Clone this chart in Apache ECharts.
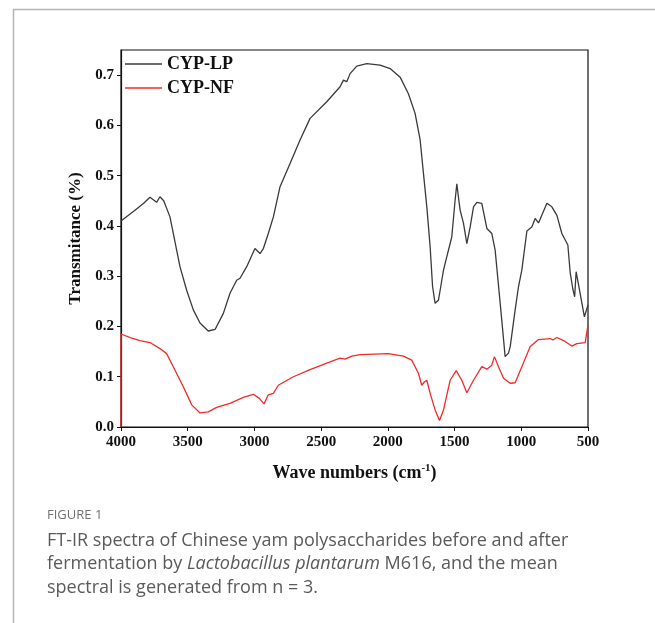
<!DOCTYPE html>
<html>
<head>
<meta charset="utf-8">
<script src="https://cdn.jsdelivr.net/npm/echarts@6/dist/echarts.min.js"></script>
<style>
html,body{margin:0;padding:0;background:#fff;}
#chart{width:655px;height:623px;}
</style>
</head>
<body>
<div id="chart"></div>
<script>
// CYP-LP (black)
var lpWave = [4000,3900,3830,3783,3733,3708,3680,3633,3558,3508,3458,3408,3346,3295,3233,3183,3133,3108,3058,2996,2958,2933,2896,2858,2808,2733,2658,2583,2458,2358,2333,2308,2283,2233,2158,2058,1983,1908,1846,1796,1758,1733,1708,1683,1665,1646,1621,1600,1583,1558,1521,1496,1483,1470,1458,1433,1408,1383,1358,1333,1296,1258,1221,1196,1158,1121,1096,1083,1046,1021,996,958,921,896,871,808,771,733,696,651,633,614,600,589,559,527,500];
var lpValue = [0.410,0.430,0.445,0.457,0.447,0.458,0.450,0.418,0.319,0.272,0.233,0.207,0.191,0.194,0.226,0.266,0.292,0.296,0.319,0.355,0.345,0.355,0.385,0.418,0.478,0.524,0.571,0.614,0.647,0.677,0.690,0.687,0.703,0.718,0.723,0.720,0.713,0.696,0.663,0.624,0.571,0.504,0.438,0.358,0.280,0.246,0.252,0.285,0.312,0.339,0.378,0.451,0.484,0.455,0.431,0.405,0.365,0.398,0.438,0.447,0.445,0.395,0.385,0.352,0.246,0.140,0.147,0.160,0.233,0.279,0.312,0.390,0.398,0.415,0.406,0.445,0.438,0.421,0.385,0.362,0.306,0.275,0.259,0.309,0.266,0.219,0.243];
// CYP-NF (red)
var nfWave = [4000,4000,3930,3858,3783,3708,3658,3608,3533,3470,3408,3346,3283,3183,3083,3008,2963,2928,2896,2858,2821,2708,2583,2458,2358,2321,2271,2208,1997,1883,1821,1771,1746,1725,1708,1683,1646,1613,1583,1533,1488,1446,1408,1358,1296,1258,1221,1201,1171,1133,1083,1046,996,933,871,783,763,733,683,621,583,521,500];
var nfValue = [0.000,0.185,0.178,0.172,0.168,0.156,0.146,0.120,0.080,0.044,0.028,0.030,0.039,0.047,0.059,0.065,0.057,0.046,0.064,0.067,0.083,0.100,0.114,0.127,0.137,0.135,0.141,0.144,0.146,0.141,0.133,0.107,0.083,0.090,0.093,0.067,0.034,0.013,0.034,0.093,0.112,0.093,0.068,0.093,0.120,0.115,0.123,0.140,0.120,0.097,0.087,0.088,0.120,0.160,0.174,0.176,0.173,0.178,0.172,0.161,0.166,0.168,0.203];
var seriesNames = ['CYP-LP','CYP-NF'];
var yTicks = [0,0.1,0.2,0.3,0.4,0.5,0.6,0.7];
var xTicks = [500,1000,1500,2000,2500,3000,3500,4000];

function zip(a,b){return a.map(function(v,i){return [v,b[i]];});}

var serif = '"Liberation Serif","DejaVu Serif",serif';
var sans = '"Open Sans", Lato, sans-serif';
var chart = echarts.init(document.getElementById('chart'));
chart.setOption({
  animation:false,
  backgroundColor:'#fff',
  grid:{left:121,right:67,top:50,bottom:196,show:true,borderColor:'#111',borderWidth:1.2,backgroundColor:'transparent'},
  legend:{
    orient:'vertical',left:120,top:49,itemWidth:37,itemHeight:1.4,itemGap:4,icon:'rect',
    textStyle:{fontFamily:serif,fontWeight:'bold',fontSize:18,color:'#111',lineHeight:20},
    data:seriesNames
  },
  xAxis:{
    type:'value',inverse:true,min:500,max:4000,interval:500,
    axisLine:{show:true,lineStyle:{color:'#111',width:1.2}},
    axisTick:{show:true,length:4,lineStyle:{color:'#111'},customValues:xTicks},
    axisLabel:{fontFamily:serif,fontWeight:'bold',fontSize:15,color:'#111',margin:8,customValues:xTicks,
      formatter:function(v){return String(v);}},
    splitLine:{show:false},
    name:'Wave numbers (cm{sup|-1})',
    nameLocation:'middle',nameGap:36,
    nameTextStyle:{fontFamily:serif,fontWeight:'bold',fontSize:18,color:'#111',
      rich:{sup:{fontFamily:serif,fontWeight:'bold',fontSize:11,color:'#111',verticalAlign:'bottom',padding:[0,0,10,0]}}}
  },
  yAxis:{
    type:'value',min:0,max:0.75,interval:0.1,
    axisLine:{show:true,lineStyle:{color:'#111',width:1.2}},
    axisTick:{show:true,length:4,lineStyle:{color:'#111'},customValues:yTicks},
    axisLabel:{fontFamily:serif,fontWeight:'bold',fontSize:15,color:'#111',margin:7,customValues:yTicks,
      formatter:function(v){return v.toFixed(1);}},
    splitLine:{show:false},
    name:'Transmitance (%)',
    nameLocation:'middle',nameGap:35,nameRotate:90,
    nameTextStyle:{fontFamily:serif,fontWeight:'bold',fontSize:17,color:'#111'}
  },
  series:[
    {name:seriesNames[0],type:'line',symbol:'none',data:zip(lpWave,lpValue),lineStyle:{color:'#3a3a3a',width:1.3},itemStyle:{color:'#3a3a3a'}},
    {name:seriesNames[1],type:'line',symbol:'none',data:zip(nfWave,nfValue),lineStyle:{color:'#f22a2a',width:1.3},itemStyle:{color:'#f22a2a'}}
  ],
  graphic:[
    {type:'line',shape:{x1:13,y1:9.5,x2:655,y2:9.5},style:{stroke:'#b5b5b5',lineWidth:1.5},silent:true},
    {type:'line',shape:{x1:13.5,y1:9,x2:13.5,y2:623},style:{stroke:'#b5b5b5',lineWidth:1.5},silent:true},
    {type:'text',left:47,top:509,style:{text:'FIGURE 1',font:'13px '+sans,fill:'#707070'}},
    {type:'text',left:47,top:529,style:{
      text:'FT-IR spectra of Chinese yam polysaccharides before and after\nfermentation by {i|Lactobacillus plantarum} M616, and the mean\nspectral is generated from n = 3.',
      font:'18px '+sans,fill:'#5a5a5a',lineHeight:23.5,
      rich:{i:{fontStyle:'italic',fontFamily:sans,fontSize:18,fill:'#5a5a5a',lineHeight:23.5}}
    }}
  ]
});
</script>
</body>
</html>
